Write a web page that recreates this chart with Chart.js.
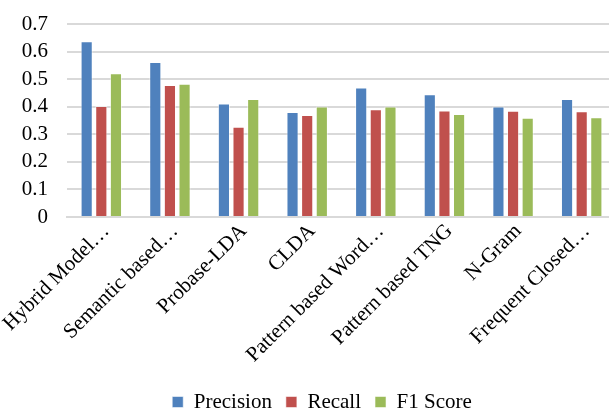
<!DOCTYPE html>
<html>
<head>
<meta charset="utf-8">
<script src="https://cdn.jsdelivr.net/npm/chart.js@4"></script>
<style>
  html, body { margin: 0; padding: 0; background: #fff; overflow: hidden; }
  /* plot area runs a little past the right edge of the picture, as in the cropped original */
  #wrap { width: 609px; height: 411px; overflow: hidden; }
</style>
</head>
<body>
<div id="wrap"><canvas id="chart" width="616" height="411"></canvas></div>
<script>
// --- data ---
const categories = ['Hybrid Model…', 'Semantic based…', 'Probase-LDA', 'CLDA',
  'Pattern based Word…', 'Pattern based TNG', 'N-Gram', 'Frequent Closed…'];
const precision = [0.637, 0.562, 0.412, 0.381, 0.470, 0.445, 0.401, 0.428];
const recall    = [0.403, 0.479, 0.327, 0.370, 0.391, 0.386, 0.385, 0.384];
const f1Score   = [0.521, 0.483, 0.428, 0.401, 0.401, 0.374, 0.360, 0.362];
const yTicks = [0, 0.1, 0.2, 0.3, 0.4, 0.5, 0.6, 0.7];

const serif = '"Liberation Serif", "Times New Roman", serif';
const PLOT_LEFT = 67;      // x where the gridlines start
const PLOT_TOP = 24;       // y of the 0.7 line
const PLOT_BOTTOM = 217;   // y of the 0 line
const LEGEND_Y = 402;      // legend text middle
const LEGEND_SHIFT = 14;   // legend sits a bit right of centre

function series(label, data, color){
  return {
    label, data,
    backgroundColor: color,
    borderColor: 'rgba(255,255,255,0.55)',
    borderWidth: 1,
    categoryPercentage: 0.64,
    barPercentage: 0.83
  };
}

// nudge the legend after layout
const legendNudge = {
  id: 'legendNudge',
  afterLayout(chart){
    const lg = chart.legend;
    if(!lg) return;
    const pad = lg.options.labels.padding;
    const itemH = lg.options.labels.font.size;
    const dy = (LEGEND_Y - itemH / 2 - pad) - lg.top;
    lg.top += dy; lg.bottom += dy;
    lg.left += LEGEND_SHIFT; lg.right += LEGEND_SHIFT;
  }
};

new Chart(document.getElementById('chart').getContext('2d'), {
  type: 'bar',
  data: {
    labels: categories,
    datasets: [
      series('Precision', precision, '#4F81BD'),
      series('Recall', recall, '#C0504D'),
      series('F1 Score', f1Score, '#9BBB59')
    ]
  },
  plugins: [legendNudge],
  options: {
    responsive: false,
    animation: false,
    devicePixelRatio: 1,
    layout: { padding: { left: 0, right: 0, top: PLOT_TOP, bottom: 0 } },
    plugins: {
      legend: {
        position: 'bottom',
        labels: {
          font: { family: serif, size: 21 },
          color: '#000',
          boxWidth: 11, boxHeight: 11,
          padding: 14
        }
      },
      tooltip: { enabled: false }
    },
    scales: {
      x: {
        grid: { display: false, drawTicks: false },
        border: { color: '#d9d9d9', width: 2 },
        ticks: {
          font: { family: serif, size: 21 },
          color: '#000',
          padding: 2,
          labelOffset: 5,
          minRotation: 45, maxRotation: 45,
          autoSkip: false
        },
        afterFit: axis => {
          const lgH = axis.chart.legend ? axis.chart.legend.height : 0;
          axis.height = axis.chart.height - PLOT_BOTTOM - lgH;
          axis.paddingLeft = 0; axis.paddingRight = 0;
        }
      },
      y: {
        min: 0, max: 0.7,
        afterBuildTicks: axis => { axis.ticks = yTicks.map(v => ({ value: v })); },
        afterFit: axis => {
          axis.width = PLOT_LEFT;
          axis.paddingTop = 0; axis.paddingBottom = 0;
        },
        grid: { color: '#d9d9d9', lineWidth: 2, drawTicks: false },
        border: { display: false },
        ticks: {
          font: { family: serif, size: 21 },
          color: '#000',
          padding: 19,
          autoSkip: false,
          callback: v => String(Math.round(v * 10) / 10)
        }
      }
    }
  }
});
</script>
</body>
</html>
